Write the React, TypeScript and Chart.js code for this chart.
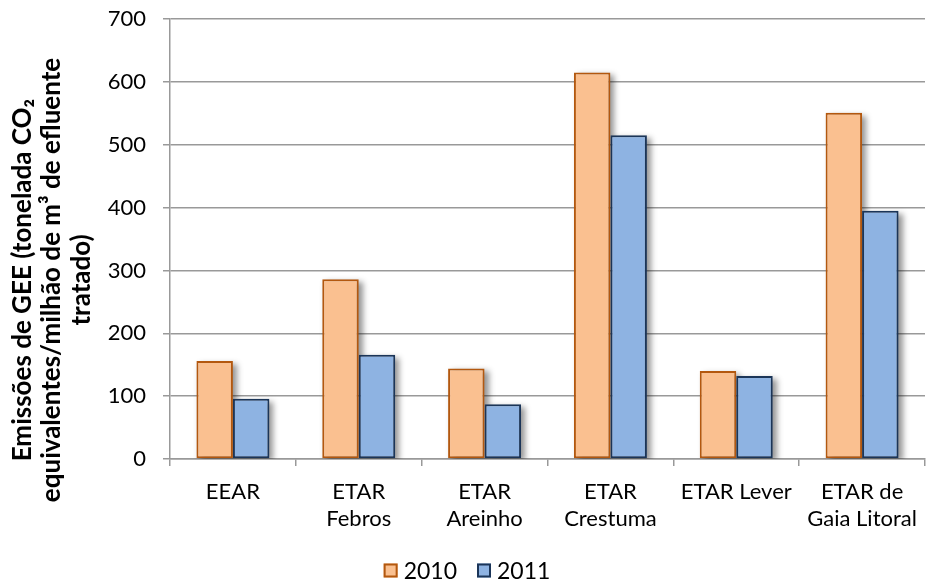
import React, { useEffect, useRef } from "react";
import { Chart, registerables } from "chart.js";

Chart.register(...registerables);

// Treatment plants on the category axis (multi-line labels as arrays)
const categories: (string | string[])[] = [
  "EEAR",
  ["ETAR", "Febros"],
  ["ETAR", "Areinho"],
  ["ETAR", "Crestuma"],
  "ETAR Lever",
  ["ETAR de", "Gaia Litoral"],
];

const seriesNames = ["2010", "2011"];
const values2010 = [156, 286, 144, 615, 140, 551];
const values2011 = [96, 166, 87, 515, 132, 395];

const yMin = 0;
const yMax = 700;
const yStep = 100;

const yTitleLines = [
  "Emissões de GEE (tonelada CO₂",
  "equivalentes/milhão de m³ de efluente",
  "tratado)",
];

const FONT = "Lato, 'Open Sans', sans-serif";
const GRID = "#999999";

// Soft grey drop shadow behind every bar (drawn before the bars;
// the rectangle itself is kept off-canvas so only its shadow lands)
const barShadow = {
  id: "barShadow",
  beforeDatasetsDraw(chart: any) {
    const { ctx, chartArea } = chart;
    const OFF = 10000;
    ctx.save();
    ctx.beginPath();
    ctx.rect(chartArea.left, chartArea.top, chartArea.right - chartArea.left, chartArea.bottom - chartArea.top);
    ctx.clip();
    ctx.shadowColor = "rgba(0,0,0,0.42)";
    ctx.shadowBlur = 6;
    ctx.shadowOffsetX = OFF + 4;
    ctx.shadowOffsetY = 3;
    ctx.fillStyle = "#000";
    chart.data.datasets.forEach((_d: any, i: number) => {
      const meta = chart.getDatasetMeta(i);
      meta.data.forEach((bar: any) => {
        const { x, y, base, width } = bar.getProps(["x", "y", "base", "width"], true);
        ctx.fillRect(x - width / 2 - OFF, Math.min(y, base), width, Math.abs(base - y));
      });
    });
    ctx.restore();
  },
};

// Rotated three-line axis title
const yTitle = {
  id: "yTitle",
  afterDraw(chart: any) {
    const { ctx, chartArea } = chart;
    ctx.save();
    ctx.font = `bold 26px ${FONT}`;
    ctx.fillStyle = "#000";
    ctx.textAlign = "center";
    ctx.textBaseline = "alphabetic";
    const yc = chartArea.top + 261;
    const xs = [31, 60, 90];
    yTitleLines.forEach((line, i) => {
      ctx.save();
      ctx.translate(xs[i], yc);
      ctx.rotate(-Math.PI / 2);
      ctx.fillText(line, 0, 0);
      ctx.restore();
    });
    ctx.restore();
  },
};

// Centered legend row below the category labels
const bottomLegend = {
  id: "bottomLegend",
  afterDraw(chart: any) {
    const { ctx } = chart;
    const ds = chart.data.datasets;
    ctx.save();
    ctx.font = `23px ${FONT}`;
    ctx.textBaseline = "middle";
    ctx.textAlign = "left";
    const box = 14;
    const gap = 6;
    const spacing = 20;
    const widths = ds.map((d: any) => ctx.measureText(d.label).width);
    const total =
      widths.reduce((a: number, w: number) => a + box + gap + w, 0) +
      spacing * (ds.length - 1);
    let x = chart.width / 2 + 4 - total / 2;
    const yc = 570.5;
    ds.forEach((d: any, i: number) => {
      ctx.fillStyle = d.backgroundColor;
      ctx.fillRect(x, yc - box / 2, box, box);
      ctx.strokeStyle = d.borderColor;
      ctx.lineWidth = 2;
      ctx.strokeRect(x + 1, yc - box / 2 + 1, box - 2, box - 2);
      ctx.fillStyle = "#000";
      ctx.fillText(d.label, x + box + gap, yc + 1);
      x += box + gap + widths[i] + spacing;
    });
    ctx.restore();
  },
};

export default function App() {
  const canvasRef = useRef<HTMLCanvasElement | null>(null);

  useEffect(() => {
    document.body.style.margin = "0";
    const canvas = canvasRef.current;
    if (!canvas) return;
    const chart = new Chart(canvas, {
      type: "bar",
      data: {
        labels: categories,
        datasets: [
          {
            label: seriesNames[0],
            data: values2010,
            backgroundColor: "#FAC090",
            borderColor: "#B3580F",
            borderWidth: 2,
            borderSkipped: false,
            categoryPercentage: 0.58,
            barPercentage: 1.0,
          },
          {
            label: seriesNames[1],
            data: values2011,
            backgroundColor: "#8EB3E2",
            borderColor: "#1B3558",
            borderWidth: 2,
            borderSkipped: false,
            categoryPercentage: 0.58,
            barPercentage: 1.0,
          },
        ],
      },
      options: {
        animation: false,
        responsive: false,
        maintainAspectRatio: false,
        layout: { padding: { top: 19, right: 1, left: 0, bottom: 0 } },
        plugins: {
          legend: { display: false },
          tooltip: { enabled: false },
          title: { display: false },
        },
        scales: {
          x: {
            afterFit: (s: any) => {
              s.height = 124;
              s.paddingLeft = 0;
              s.paddingRight = 0;
            },
            grid: {
              display: true,
              drawOnChartArea: false,
              drawTicks: true,
              tickLength: 7,
              color: GRID,
              lineWidth: 1.5,
              offset: true,
            },
            border: { display: true, color: GRID, width: 1.5 },
            ticks: {
              color: "#000",
              font: { family: FONT, size: 22 },
              padding: 13,
              maxRotation: 0,
              autoSkip: false,
            },
          },
          y: {
            min: yMin,
            max: yMax,
            afterFit: (s: any) => {
              s.width = 170;
              s.paddingTop = 0;
              s.paddingBottom = 0;
            },
            grid: {
              color: GRID,
              lineWidth: 1.5,
              drawTicks: true,
              tickLength: 7,
            },
            border: { display: true, color: GRID, width: 1.5 },
            ticks: {
              stepSize: yStep,
              color: "#000",
              font: { family: FONT, size: 22 },
              padding: 17,
            },
          },
        },
      },
      plugins: [barShadow, yTitle, bottomLegend],
    });
    return () => chart.destroy();
  }, []);

  return (
    <div style={{ width: 926, height: 583, background: "#fff" }}>
      <canvas ref={canvasRef} width={926} height={583} style={{ display: "block" }} />
    </div>
  );
}
